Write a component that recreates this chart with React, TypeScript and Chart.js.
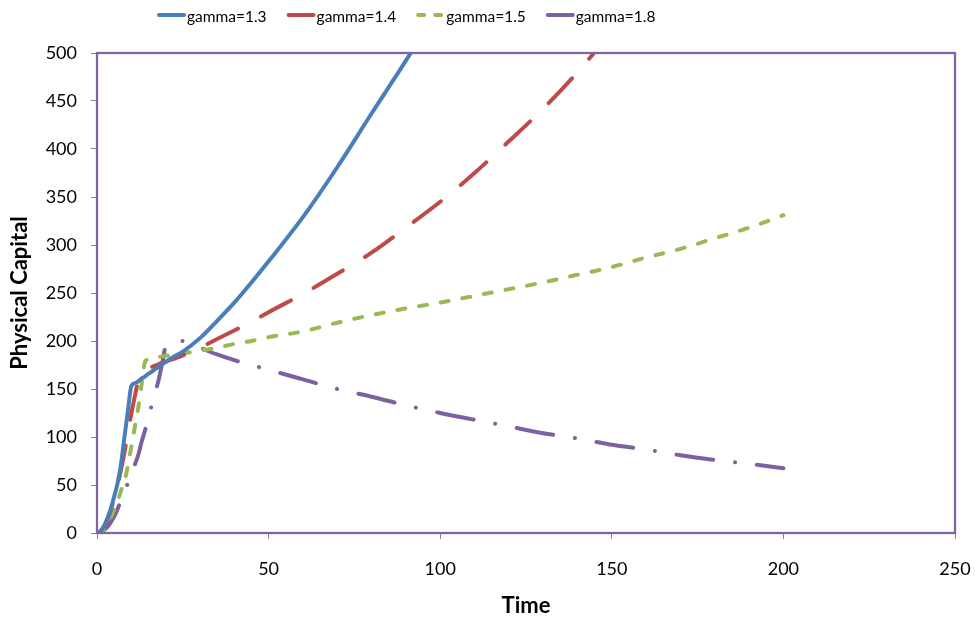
import React, { useEffect, useRef } from "react";
import { Chart, registerables } from "chart.js";

Chart.register(...registerables);

// ---- data ----
const TIME = [0, 1, 2, 3, 4, 5, 6, 7, 8, 9, 10, 11, 12, 13, 14, 15, 16, 17, 18, 19, 20, 22, 25, 30, 35, 40, 45, 50, 60, 70, 80, 90, 100, 110, 120, 130, 140, 150, 160, 170, 180, 190, 200];

const GAMMA_13 = [0, 2, 7, 15, 25, 38, 52, 72, 100, 127, 153, 156, 158, 161, 163, 166, 168, 171, 173, 176, 178, 183, 189, 203, 221, 240, 261, 283, 329, 381, 437, 492, 550, null, null, null, null, null, null, null, null, null, null];

const GAMMA_14 = [0, 2, 6, 13, 24, 36, 50, 66, 84, 104, 124, 142, 158, 164, 168, 171, 173, 174.5, 176, 177, 178.5, 181, 185, 193, 202, 211, 220, 230, 249, 270, 292, 318, 345, 375, 408, 442, 480, 522, null, null, null, null, null];

const GAMMA_15 = [0, 1, 4, 9, 16, 24, 33, 44, 54, 70, 90, 110, 130, 155, 178, 181, 182, 183, 183.5, 184, 184.5, 185.5, 187, 190, 193, 197, 200, 204, 210, 219, 227, 234, 240, 247, 254, 261, 269, 277, 287, 296, 307, 318, 331];

const GAMMA_18 = [0, 1, 3, 6, 11, 17, 25, 34, 43, 52, 62, 71, 81, 95, 107, 120, 134, 147, 160, 177, 194, 198, 200, 193, 186, 180, 175, 170, 160, 150, 142, 133, 125, 118, 111, 104, 98.5, 92, 87, 81, 76, 72, 67.5];

const SERIES_LABELS = ["gamma=1.3", "gamma=1.4", "gamma=1.5", "gamma=1.8"];
const X_TICKS = [0, 50, 100, 150, 200, 250];
const Y_TICKS = [0, 50, 100, 150, 200, 250, 300, 350, 400, 450, 500];

const COLORS = ["#4A7EBB", "#BE4B48", "#98B954", "#7D60A0"];
const DASHES: number[][] = [[], [34, 26], [8, 14], [37, 22, 0.001, 22]];
const LEGEND_DASHES: number[][] = [[], [], [6, 11], []];

const FONT = "Lato, 'Liberation Sans', sans-serif";

const toPoints = (vals: (number | null)[]) =>
  TIME.map((t, i) => ({ x: t, y: vals[i] })).filter((p) => p.y !== null) as { x: number; y: number }[];

const framePlugin = {
  id: "frame",
  afterDatasetsDraw(chart: any) {
    const { ctx, chartArea } = chart;
    ctx.save();
    ctx.strokeStyle = "#8064A2";
    ctx.lineWidth = 2.25;
    ctx.setLineDash([]);
    ctx.strokeRect(chartArea.left, chartArea.top, chartArea.right - chartArea.left, chartArea.bottom - chartArea.top);
    ctx.restore();
  },
};

const legendPlugin = {
  id: "customLegend",
  afterDraw(chart: any) {
    const { ctx } = chart;
    ctx.save();
    ctx.font = `15.5px ${FONT}`;
    ctx.textBaseline = "middle";
    ctx.fillStyle = "#000";
    let x = 157;
    const y = 15;
    chart.data.datasets.forEach((ds: any, i: number) => {
      ctx.strokeStyle = ds.borderColor;
      ctx.lineWidth = 4;
      ctx.lineCap = "round";
      ctx.setLineDash(LEGEND_DASHES[i]);
      ctx.beginPath();
      ctx.moveTo(x + 2, y);
      ctx.lineTo(x + 27, y);
      ctx.stroke();
      ctx.setLineDash([]);
      const tx = x + 30;
      ctx.fillText(ds.label, tx, y + 2);
      const w = ctx.measureText(ds.label).width;
      x = tx + w + 20;
    });
    ctx.restore();
  },
};

export default function App() {
  const ref = useRef<HTMLCanvasElement | null>(null);

  useEffect(() => {
    document.body.style.margin = "0";
    if (!ref.current) return;
    const allSeries = [GAMMA_13, GAMMA_14, GAMMA_15, GAMMA_18];
    const chart = new Chart(ref.current, {
      type: "line",
      data: {
        datasets: allSeries.map((vals, i) => ({
          label: SERIES_LABELS[i],
          data: toPoints(vals),
          borderColor: COLORS[i],
          backgroundColor: COLORS[i],
          borderWidth: 4,
          borderDash: DASHES[i],
          borderCapStyle: "round",
          borderJoinStyle: "round",
          pointRadius: 0,
          pointHoverRadius: 0,
          cubicInterpolationMode: "monotone",
          fill: false,
        })),
      },
      options: {
        animation: false,
        responsive: false,
        maintainAspectRatio: false,
        layout: { padding: { top: 53, right: 20, left: 0, bottom: 0 } },
        plugins: {
          legend: { display: false },
          tooltip: { enabled: false },
        },
        scales: {
          x: {
            type: "linear",
            min: 0,
            max: 250,
            afterBuildTicks: (s: any) => {
              s.ticks = X_TICKS.map((v) => ({ value: v }));
            },
            afterFit: (s: any) => {
              s.height = 90;
              s.paddingLeft = 0;
              s.paddingRight = 0;
            },
            ticks: {
              color: "#000",
              font: { family: FONT, size: 18 },
              padding: 19,
              maxRotation: 0,
            },
            grid: {
              drawOnChartArea: false,
              drawTicks: true,
              tickLength: 6,
              tickColor: "#868686",
              color: "#868686",
            },
            border: { display: false },
            title: {
              display: true,
              text: "Time",
              color: "#000",
              font: { family: FONT, size: 22, weight: "bold" },
              padding: { top: 0, bottom: 4 },
            },
          },
          y: {
            type: "linear",
            min: 0,
            max: 500,
            afterBuildTicks: (s: any) => {
              s.ticks = Y_TICKS.map((v) => ({ value: v }));
            },
            afterFit: (s: any) => {
              s.width = 97;
              s.paddingTop = 0;
              s.paddingBottom = 0;
            },
            ticks: {
              color: "#000",
              font: { family: FONT, size: 18 },
              padding: 14,
            },
            grid: {
              drawOnChartArea: false,
              drawTicks: true,
              tickLength: 6,
              tickColor: "#868686",
              color: "#868686",
            },
            border: { display: false },
            title: {
              display: true,
              text: "Physical Capital",
              color: "#000",
              font: { family: FONT, size: 22, weight: "bold" },
              padding: { top: 7, bottom: 0 },
            },
          },
        },
      } as any,
      plugins: [framePlugin, legendPlugin],
    });
    return () => chart.destroy();
  }, []);

  return (
    <div style={{ width: 975, height: 623 }}>
      <canvas ref={ref} width={975} height={623} style={{ display: "block" }} />
    </div>
  );
}
